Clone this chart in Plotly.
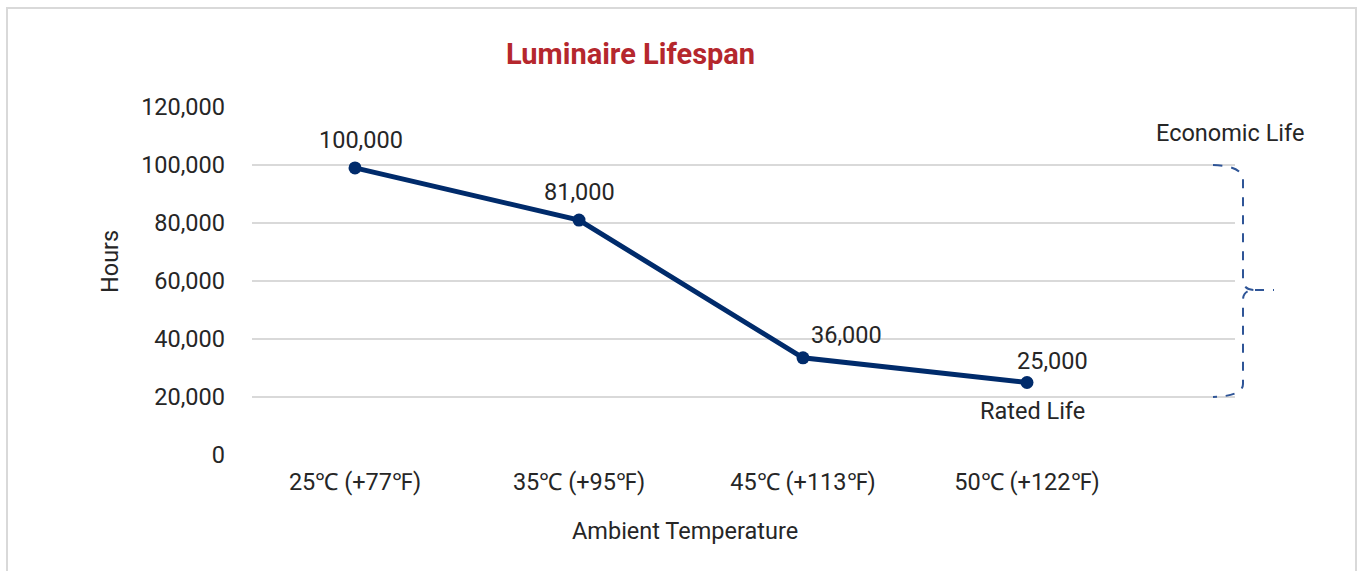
import plotly.graph_objects as go

categories = ["25℃ (+77℉)", "35℃ (+95℉)", "45℃ (+113℉)", "50℃ (+122℉)"]
hours = [99000, 81000, 33500, 25000]
point_labels = ["100,000", "81,000", "36,000", "25,000"]
label_dx = [6, 0, 43, 25]
label_dy = [28, 28, 23, 22]
y_ticks = [0, 20000, 40000, 60000, 80000, 100000, 120000]
y_tick_text = ["0", "20,000", "40,000", "60,000", "80,000", "100,000", "120,000"]

W, H = 1364, 571
L, R, T, B = 252, 1235, 107, 455

def xp(px):
    return (px - L) / (R - L)

def yp(py):
    return (B - py) / (B - T)

FONT = "Roboto"
TXT = "#262626"
NAVY = "#002b6b"
BR = "#2f5597"
FS = 23.5

fig = go.Figure()
fig.add_trace(go.Scatter(
    x=list(range(len(categories))), y=hours, mode="lines+markers",
    line=dict(color=NAVY, width=5), marker=dict(color=NAVY, size=13),
    hoverinfo="skip", showlegend=False, cliponaxis=False,
))

C = dict(xanchor="center", yanchor="middle", showarrow=False)
ann = []
for i, (v, t) in enumerate(zip(hours, point_labels)):
    ann.append(dict(x=i, y=v, xref="x", yref="y", text=t,
                    xshift=label_dx[i], yshift=label_dy[i],
                    font=dict(family=FONT, size=FS, color=TXT), **C))
ann.append(dict(x=3, y=hours[3], xref="x", yref="y", text="Rated Life",
                xshift=5, yshift=-28, font=dict(family=FONT, size=FS, color=TXT), **C))
ann.append(dict(x=xp(1230), y=yp(133), xref="paper", yref="paper", text="Economic Life",
                font=dict(family=FONT, size=FS, color=TXT), **C))
ann.append(dict(x=xp(630), y=yp(54), xref="paper", yref="paper", text="<b>Luminaire Lifespan</b>",
                font=dict(family=FONT, size=29, color="#b5272d"), **C))
ann.append(dict(x=xp(110), y=yp(262), xref="paper", yref="paper", text="Hours", textangle=-90,
                font=dict(family=FONT, size=FS, color=TXT), **C))
ann.append(dict(x=xp(685), y=yp(531), xref="paper", yref="paper", text="Ambient Temperature",
                font=dict(family=FONT, size=FS, color=TXT), **C))

def P(px, py):
    return f"{xp(px):.5f},{yp(py):.5f}"

brace = ("M " + P(1213, 165) + " Q " + P(1243, 166) + " " + P(1243, 180) +
         " L " + P(1243, 280) + " Q " + P(1243, 290) + " " + P(1255, 290) +
         " Q " + P(1243, 290) + " " + P(1243, 300) +
         " L " + P(1243, 384) + " Q " + P(1243, 396) + " " + P(1213, 397))
tip = "M " + P(1255, 290) + " L " + P(1274, 290)

shapes = [
    dict(type="path", path=brace, xref="paper", yref="paper",
         line=dict(color=BR, width=2, dash="dash")),
    dict(type="path", path=tip, xref="paper", yref="paper",
         line=dict(color=BR, width=2, dash="dash")),
    dict(type="rect", xref="paper", yref="paper", x0=xp(7), x1=xp(1356), y0=yp(8), y1=yp(600),
         line=dict(color="#d9d9d9", width=2), layer="below"),
]

fig.update_layout(
    width=W, height=H, margin=dict(l=L, r=W - R, t=T, b=H - B),
    paper_bgcolor="white", plot_bgcolor="white",
    annotations=ann, shapes=shapes, showlegend=False,
    xaxis=dict(tickmode="array", tickvals=list(range(len(categories))), ticktext=categories,
               range=[(L - 355) / 224, (R - 355) / 224], showgrid=False, zeroline=False,
               showline=False, ticks="", ticklabelstandoff=10,
               tickfont=dict(family=FONT, size=FS, color=TXT)),
    yaxis=dict(range=[0, 120000], tickmode="array", tickvals=y_ticks, ticktext=y_tick_text,
               showgrid=True, gridcolor="#d9d9d9", gridwidth=1.5, zeroline=False,
               showline=False, ticks="", ticklabelstandoff=26,
               tickfont=dict(family=FONT, size=FS, color=TXT)),
)

fig.write_html("out.html", config={"displayModeBar": False},
               post_script="document.body.style.margin='0';document.body.style.overflow='hidden';")
